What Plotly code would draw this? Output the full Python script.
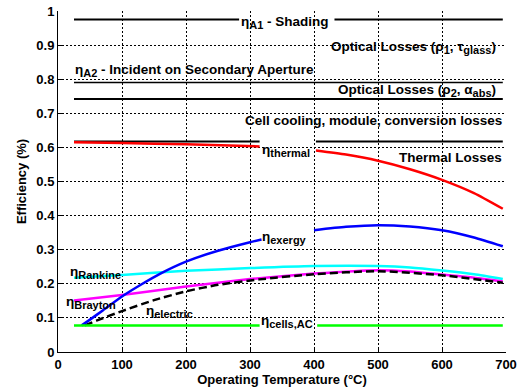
import plotly.graph_objects as go

# ---- data ----
shade_x1 = [25, 283]; shade_x2 = [432, 695]; shade_y = 0.975
a2_x = [25, 695]; a2_y = 0.79
opt2_x = [25, 695]; opt2_y = 0.742
cell_x1 = [25, 315]; cell_x2 = [403, 695]; cell_y = 0.617

thermal_x1 = [25, 100, 200, 315]
thermal_y1 = [0.615, 0.613, 0.609, 0.603]
thermal_x2 = [403, 450, 500, 550, 600, 650, 695]
thermal_y2 = [0.591, 0.579, 0.561, 0.536, 0.505, 0.466, 0.42]

exergy_x1 = [37, 50, 70, 100, 130, 160, 200, 250, 300, 318]
exergy_y1 = [0.078, 0.095, 0.122, 0.163, 0.198, 0.230, 0.265, 0.297, 0.322, 0.330]
exergy_x2 = [400, 450, 500, 550, 600, 650, 695]
exergy_y2 = [0.357, 0.367, 0.372, 0.368, 0.357, 0.336, 0.310]

rankine_x = [25, 100, 200, 300, 400, 500, 550, 600, 650, 695]
rankine_y = [0.218, 0.226, 0.238, 0.246, 0.252, 0.252, 0.248, 0.239, 0.228, 0.214]

brayton_x = [25, 100, 200, 300, 400, 500, 550, 600, 650, 695]
brayton_y = [0.151, 0.167, 0.192, 0.214, 0.230, 0.240, 0.236, 0.227, 0.218, 0.207]

electric_x = [42, 60, 100, 150, 200, 250, 315, 400, 500, 600, 695]
electric_y = [0.078, 0.092, 0.120, 0.152, 0.178, 0.197, 0.213, 0.228, 0.237, 0.225, 0.203]

cells_x1 = [25, 315]; cells_x2 = [405, 695]; cells_y = 0.078

x_ticks = [0, 100, 200, 300, 400, 500, 600, 700]
y_ticks = [0, 0.1, 0.2, 0.3, 0.4, 0.5, 0.6, 0.7, 0.8, 0.9, 1.0]
y_tick_text = ["0", "0.1", "0.2", "0.3", "0.4", "0.5", "0.6", "0.7", "0.8", "0.9", "1"]

FONT = "Liberation Sans"

fig = go.Figure()

def add_line(xs, ys, color, width=2, dash="solid", shape="linear"):
    fig.add_trace(go.Scatter(x=xs, y=ys, mode="lines",
                             line=dict(color=color, width=width, dash=dash, shape=shape, smoothing=0.6),
                             showlegend=False, hoverinfo="skip"))

add_line(shade_x1, [shade_y] * 2, "black")
add_line(shade_x2, [shade_y] * 2, "black")
add_line(a2_x, [a2_y] * 2, "black", 1.5)
add_line(opt2_x, [opt2_y] * 2, "black", 2.2)
add_line(cell_x1, [cell_y] * 2, "black")
add_line(cell_x2, [cell_y] * 2, "black")
add_line(thermal_x1, thermal_y1, "red", 2.5, shape="spline")
add_line(thermal_x2, thermal_y2, "red", 2.5, shape="spline")
add_line(rankine_x, rankine_y, "cyan", 2.5, shape="spline")
add_line(brayton_x, brayton_y, "magenta", 2.5, shape="spline")
add_line(electric_x, electric_y, "black", 2.5, "8px,4px", shape="spline")
add_line(exergy_x1, exergy_y1, "blue", 2.5, shape="spline")
add_line(exergy_x2, exergy_y2, "blue", 2.5, shape="spline")
add_line(cells_x1, [cells_y] * 2, "lime", 2.5)
add_line(cells_x2, [cells_y] * 2, "lime", 2.5)

def sub(t):
    return '<sub><span style="font-size:11px">' + t + '</span></sub>'

def note(x, y, text, anchor="left", size=13.5):
    fig.add_annotation(x=x, y=y, xref="x", yref="y", text="<b>" + text + "</b>", showarrow=False,
                       xanchor=anchor, yanchor="middle", font=dict(family=FONT, size=size, color="black"))

note(283, 0.967, "η" + sub("A1") + " - Shading")
note(687, 0.893, "Optical Losses (ρ" + sub("1") + ", τ" + sub("glass") + ")", "right")
note(24, 0.826, "η" + sub("A2") + " - Incident on Secondary Aperture")
note(687, 0.767, "Optical Losses (ρ" + sub("2") + ", α" + sub("abs") + ")", "right")
note(697, 0.68, "Cell cooling, module, conversion losses", "right")
note(697, 0.571, "Thermal Losses", "right")
note(315, 0.592, "η" + sub("thermal"))
note(316, 0.335, "η" + sub("exergy"))
note(16, 0.234, "η" + sub("Rankine"))
note(10, 0.146, "η" + sub("Brayton"))
note(134, 0.118, "η" + sub("electric"))
note(314, 0.09, "η" + sub("cells,AC"))

axis_common = dict(showgrid=True, gridcolor="black", griddash="2px,2px", gridwidth=1,
                   showline=True, linecolor="black", linewidth=1, ticks="inside", ticklen=4,
                   tickcolor="black", zeroline=False, mirror=False, automargin=False, layer="below traces",
                   tickfont=dict(family=FONT, size=13, color="black", weight="bold"))

fig.update_layout(
    width=518, height=391,
    margin=dict(l=58, r=12, t=11, b=39, autoexpand=False),
    paper_bgcolor="white", plot_bgcolor="white",
    xaxis=dict(range=[0, 700], tickvals=x_ticks,
               title=dict(text="<b>Operating Temperature (°C)</b>", font=dict(family=FONT, size=13, color="black"),
                          standoff=4),
               **axis_common),
    yaxis=dict(range=[0, 1], tickvals=y_ticks, ticktext=y_tick_text,
               title=dict(text="<b>Efficiency (%)</b>", font=dict(family=FONT, size=13, color="black"),
                          standoff=6),
               **axis_common),
)

fig.write_html("out.html")
